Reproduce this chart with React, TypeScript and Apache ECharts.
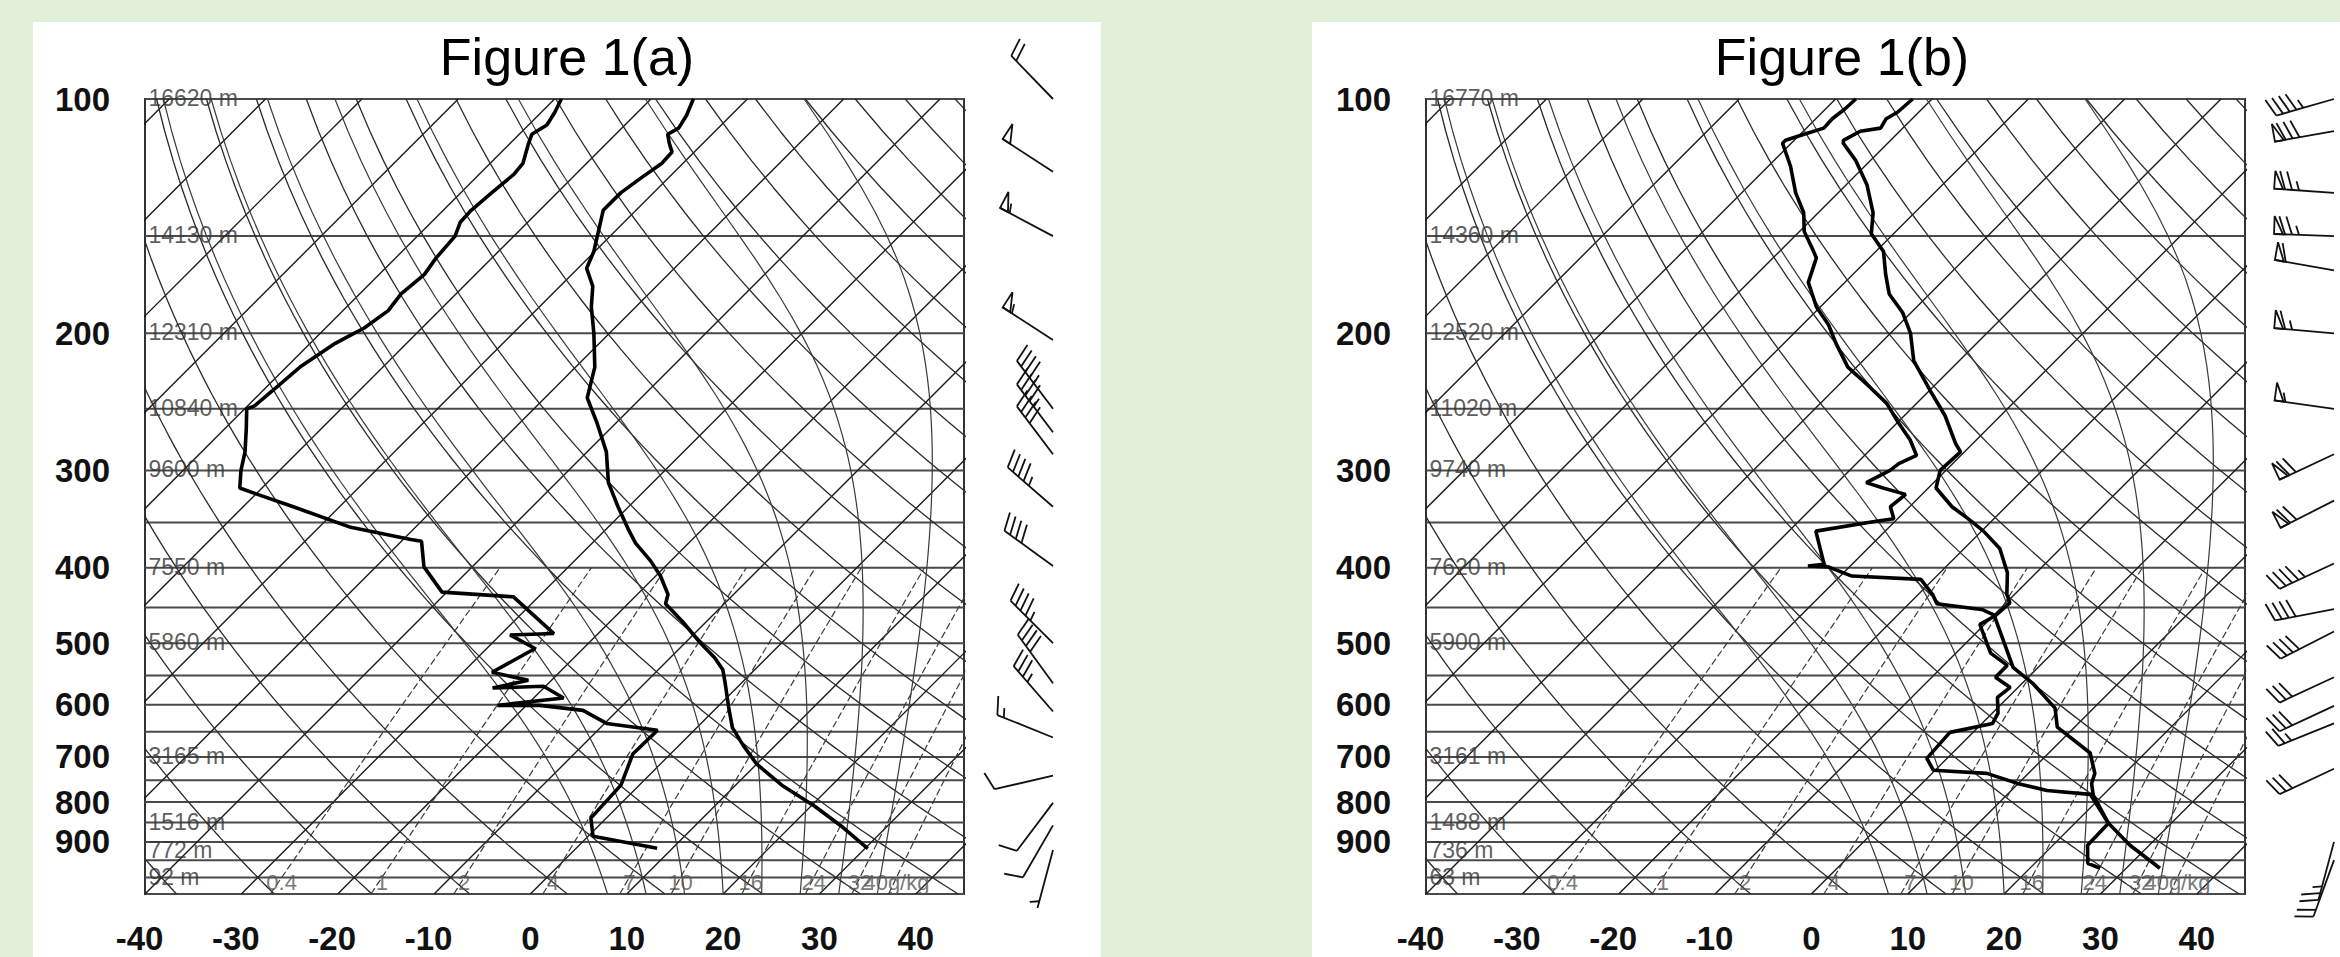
import React, { useEffect, useRef } from "react";
import * as echarts from "echarts";

// ---------- layout constants ----------
const PAGE_W = 2340;
const PAGE_H = 957;
const GRID_LEFT = [145, 1426];
const GRID_TOP = 99;
const GRID_W = 819;
const GRID_H = 795;
const T_MIN = -40;
const T_MAX = 45;
const P_TOP = 100;
const P_BOT = 1050;
const FONT = "'Liberation Sans', Arial, Helvetica, sans-serif";

// ---------- diagram reference values ----------
const PRESSURE_LABELS = [100, 200, 300, 400, 500, 600, 700, 800, 900];
const TEMP_LABELS = [-40, -30, -20, -10, 0, 10, 20, 30, 40];
const ISOBARS = [100, 150, 200, 250, 300, 350, 400, 450, 500, 550, 600, 650, 700, 750, 800, 850, 900, 950, 1000, 1050];
const ISOTHERMS = [-130, -120, -110, -100, -90, -80, -70, -60, -50, -40, -30, -20, -10, 0, 10, 20, 30, 40];
const DRY_ADIABATS = [-40, -30, -20, -10, 0, 10, 20, 30, 40, 50, 60, 70, 80, 90, 100, 110, 120, 130, 140, 150, 160, 170, 180];
const MOIST_ADIABATS = [8, 12, 16, 20, 24, 28, 32, 36];
const MIXING_RATIOS = [0.4, 1, 2, 4, 7, 10, 16, 24, 32, 40];
const MIXING_LABELS = ["0.4", "1", "2", "4", "7", "10", "16", "24", "32", "40g/kg"];

const HEIGHT_LEVELS = [100, 150, 200, 250, 300, 400, 500, 700, 850, 925, 1000];
const HEIGHTS_A = ["16620 m", "14130 m", "12310 m", "10840 m", "9600 m", "7550 m", "5860 m", "3165 m", "1516 m", "772 m", "92 m"];
const HEIGHTS_B = ["16770 m", "14360 m", "12520 m", "11020 m", "9740 m", "7620 m", "5900 m", "3161 m", "1488 m", "736 m", "63 m"];

// ---------- Figure 1(a) sounding ----------
const A_TEMP_P = [100, 105, 109, 111, 114, 117, 121, 126, 132, 139, 148, 157, 165, 174, 185, 200, 221, 242, 260, 284, 311, 334, 359, 372, 392, 410, 433, 445, 469, 499, 522, 541, 561, 603, 642, 677, 715, 761, 810, 862, 918];
const A_TEMP_T = [-65.6, -64.6, -64.1, -64.6, -63.5, -62.3, -62.2, -62.8, -63.4, -63.4, -61.7, -60.1, -59.1, -56.6, -54.6, -51.6, -48.0, -45.6, -42.1, -38.0, -34.6, -31.1, -27.4, -25.5, -22.1, -19.5, -16.8, -16.1, -12.5, -8.5, -5.4, -3.3, -1.8, 1.1, 3.7, 6.7, 10.0, 14.8, 20.4, 25.5, 30.3];
const A_DEW_P = [100, 104, 108, 111, 114, 121, 125, 132, 139, 144, 150, 160, 168, 178, 187, 197, 200, 206, 221, 237, 248, 250, 265, 284, 300, 316, 322, 334, 355, 368, 370, 399, 430, 436, 486, 488, 508, 545, 558, 571, 568, 588, 601, 601, 610, 634, 647, 694, 761, 839, 885, 917];
const A_DEW_T = [-79.3, -78.6, -78.1, -78.7, -78.1, -76.6, -76.4, -76.8, -77.1, -77.0, -76.1, -75.8, -75.3, -75.7, -75.3, -76.0, -76.5, -77.4, -78.6, -79.0, -79.3, -79.8, -77.8, -75.5, -74.0, -72.3, -69.8, -64.8, -56.7, -49.2, -47.9, -45.0, -40.5, -32.6, -24.6, -29.0, -25.0, -27.0, -22.4, -25.3, -20.2, -16.9, -23.0, -18.6, -13.6, -9.8, -3.8, -3.9, -1.9, -1.6, 0.5, 8.4];
const A_WIND_P = [100, 124, 150, 204, 250, 268, 286, 334, 398, 500, 563, 612, 661, 740, 802, 857, 922];
const A_WIND_DIR = [316, 303, 298, 303, 323, 323, 323, 311, 306, 315, 324, 319, 292, 257, 217, 210, 195];
const A_WIND_SPD = [20, 50, 55, 55, 45, 45, 40, 45, 40, 45, 40, 35, 15, 10, 10, 10, 5];

// ---------- Figure 1(b) sounding ----------
const B_TEMP_P = [100, 104, 106, 109, 110, 113, 114, 120, 129, 140, 149, 157, 168, 178, 188, 200, 217, 237, 255, 277, 284, 300, 316, 334, 346, 359, 378, 406, 433, 444, 462, 496, 537, 563, 606, 641, 692, 735, 757, 784, 852, 909, 973];
const B_TEMP_T = [-72.0, -72.2, -72.7, -72.3, -74.1, -74.9, -74.6, -71.5, -67.8, -64.3, -62.3, -59.2, -56.6, -54.2, -50.9, -47.9, -44.7, -39.9, -35.8, -31.8, -30.4, -30.6, -29.2, -25.6, -22.7, -19.8, -16.3, -13.0, -10.8, -9.6, -9.8, -6.4, -2.6, 1.1, 6.0, 8.2, 14.3, 16.9, 17.6, 19.0, 23.5, 28.0, 33.5];
const B_DEW_P = [100, 103, 106, 109, 111, 113, 114, 122, 132, 140, 148, 155, 160, 172, 185, 195, 206, 221, 233, 246, 260, 274, 287, 294, 300, 311, 316, 322, 334, 346, 349, 359, 396, 398, 399, 410, 414, 433, 445, 453, 461, 473, 515, 534, 553, 570, 587, 615, 634, 651, 703, 728, 735, 757, 773, 782, 852, 909, 959, 973];
const B_DEW_T = [-77.9, -78.0, -78.3, -78.2, -79.6, -80.9, -80.9, -77.7, -74.4, -71.5, -69.5, -67.1, -65.5, -63.8, -60.4, -57.3, -54.6, -50.9, -47.0, -43.1, -40.0, -36.9, -34.6, -35.6, -35.8, -37.0, -34.7, -31.7, -32.0, -30.4, -32.1, -37.2, -32.9, -34.4, -32.2, -28.8, -21.3, -18.5, -17.1, -11.7, -9.8, -10.5, -6.4, -3.4, -3.4, -0.8, -1.1, 0.6, 1.1, -2.4, -2.1, -0.2, 5.7, 9.9, 13.7, 18.6, 23.5, 23.6, 25.5, 27.3];
const B_WIND_P = [100, 110, 132, 150, 166, 200, 250, 286, 328, 395, 452, 483, 553, 602, 634, 725, 900, 950];
const B_WIND_DIR = [254, 260, 274, 272, 280, 275, 278, 245, 243, 245, 259, 243, 245, 245, 248, 245, 195, 200];
const B_WIND_SPD = [45, 80, 75, 75, 60, 65, 55, 70, 70, 45, 40, 40, 30, 30, 25, 30, 25, 20];

// ---------- thermodynamics helpers ----------
const K_SKEW = (GRID_H / Math.log(P_BOT / P_TOP)) / (GRID_W / (T_MAX - T_MIN));
const skewX = (t: number, p: number) => t + K_SKEW * Math.log(P_BOT / p);
const yv = (p: number) => Math.log10(p);

const curvePressures: number[] = [];
for (let p = P_BOT; p >= P_TOP; p -= 10) curvePressures.push(p);

function dryCurve(thetaC: number) {
  const th = thetaC + 273.15;
  return curvePressures.map((p) => {
    const t = th * Math.pow(p / 1000, 0.2857) - 273.15;
    return [skewX(t, p), yv(p)];
  });
}

function moistLapse(p: number, T: number) {
  const tc = T - 273.15;
  const es = 6.112 * Math.exp((17.67 * tc) / (tc + 243.5));
  const rs = (0.622 * es) / Math.max(p - es, 1);
  const Rd = 287.04, Cp = 1005.7, Lv = 2.501e6, eps = 0.622;
  const num = (Rd * T + Lv * rs) / p;
  const den = Cp + (Lv * Lv * rs * eps) / (Rd * T * T);
  return num / den;
}

function moistCurve(t0: number) {
  const pts: number[][] = [[skewX(t0, P_BOT), yv(P_BOT)]];
  let T = t0 + 273.15;
  let p = P_BOT;
  const dp = -2;
  while (p > P_TOP) {
    const k1 = moistLapse(p, T);
    const k2 = moistLapse(p + dp / 2, T + (k1 * dp) / 2);
    T += k2 * dp;
    p += dp;
    if (Math.round(p) % 10 === 0) pts.push([skewX(T - 273.15, p), yv(p)]);
  }
  return pts;
}

const tFromMix = (w: number, p: number) => {
  const e = (w * p) / (622 + w);
  const l = Math.log(e / 6.112);
  return (243.5 * l) / (17.67 - l);
};

function mixCurve(w: number) {
  const pts: number[][] = [];
  for (let p = P_BOT; p >= 400; p -= 25) pts.push([skewX(tFromMix(w, p), p), yv(p)]);
  return pts;
}

// ---------- series builders ----------
function lineSeries(gi: number, data: any[], style: any, z = 2) {
  return {
    type: "line",
    xAxisIndex: gi,
    yAxisIndex: gi,
    data,
    showSymbol: false,
    symbol: "none",
    silent: true,
    clip: true,
    animation: false,
    lineStyle: style,
    emphasis: { disabled: true },
    z,
  };
}

function barbSeries(gi: number, P: number[], DIR: number[], SPD: number[]) {
  return {
    type: "custom",
    xAxisIndex: gi,
    yAxisIndex: gi,
    clip: false,
    silent: true,
    z: 6,
    data: P.map((p, i) => [T_MAX, yv(p), DIR[i], SPD[i]]),
    renderItem: (params: any, api: any) => {
      const c = api.coord([api.value(0), api.value(1)]);
      const bx = c[0] + 89;
      const by = c[1];
      const d = (api.value(2) * Math.PI) / 180;
      const ux = Math.sin(d);
      const uy = -Math.cos(d);
      const px = -uy;
      const py = ux;
      const L = 60, BL = 18, SP = 7, FW = 9;
      const tx = bx + ux * L;
      const ty = by + uy * L;
      const st = { stroke: "#111", lineWidth: 1.8, fill: "none" };
      const children: any[] = [
        { type: "line", shape: { x1: bx, y1: by, x2: tx, y2: ty }, style: st },
      ];
      let spd = Math.round(api.value(3) / 5) * 5;
      let s = 0;
      while (spd >= 50) {
        const a = [tx - ux * s, ty - uy * s];
        const b = [tx - ux * (s + FW), ty - uy * (s + FW)];
        const apex = [a[0] + px * BL, a[1] + py * BL];
        children.push({ type: "polygon", shape: { points: [a, apex, b] }, style: st });
        s += FW + 2;
        spd -= 50;
      }
      while (spd >= 10) {
        const a = [tx - ux * s, ty - uy * s];
        children.push({
          type: "line",
          shape: { x1: a[0], y1: a[1], x2: a[0] + px * BL + ux * BL * 0.35, y2: a[1] + py * BL + uy * BL * 0.35 },
          style: st,
        });
        s += SP;
        spd -= 10;
      }
      if (spd >= 5) {
        if (s === 0) s = SP;
        const a = [tx - ux * s, ty - uy * s];
        const h = BL * 0.5;
        children.push({
          type: "line",
          shape: { x1: a[0], y1: a[1], x2: a[0] + px * h + ux * h * 0.35, y2: a[1] + py * h + uy * h * 0.35 },
          style: st,
        });
      }
      return { type: "group", children };
    },
  };
}

function panelSeries(gi: number, heights: string[], tp: number[], tt: number[], dp: number[], dt: number[], wp: number[], wd: number[], ws: number[]) {
  const s: any[] = [];
  ISOBARS.forEach((p) => s.push(lineSeries(gi, [[T_MIN, yv(p)], [T_MAX, yv(p)]], { color: "#4a4a4a", width: 2 }, 1)));
  ISOTHERMS.forEach((t) =>
    s.push(lineSeries(gi, [[skewX(t, P_BOT), yv(P_BOT)], [skewX(t, P_TOP), yv(P_TOP)]], { color: "#1a1a1a", width: 1.4 }, 2))
  );
  DRY_ADIABATS.forEach((th) => s.push(lineSeries(gi, dryCurve(th), { color: "#2a2a2a", width: 1.3 }, 2)));
  MOIST_ADIABATS.forEach((t0) => s.push(lineSeries(gi, moistCurve(t0), { color: "#3a3a3a", width: 1.2 }, 2)));
  MIXING_RATIOS.forEach((w) => s.push(lineSeries(gi, mixCurve(w), { color: "#3a3a3a", width: 1.2, type: [7, 3] }, 2)));
  s.push(lineSeries(gi, tp.map((p, i) => [skewX(tt[i], p), yv(p)]), { color: "#000", width: 3.6 }, 5));
  s.push(lineSeries(gi, dp.map((p, i) => [skewX(dt[i], p), yv(p)]), { color: "#000", width: 3.6 }, 5));
  s.push({
    type: "scatter",
    xAxisIndex: gi,
    yAxisIndex: gi,
    silent: true,
    symbolSize: 1,
    itemStyle: { color: "rgba(0,0,0,0)" },
    data: HEIGHT_LEVELS.map((p, i) => [T_MIN + 0.3, yv(p), heights[i]]),
    label: {
      show: true,
      position: "right",
      distance: 0,
      formatter: (q: any) => q.value[2],
      fontSize: 23,
      fontFamily: FONT,
      color: "#333",
      offset: [0, -1],
    },
    z: 4,
  });
  s.push({
    type: "scatter",
    xAxisIndex: gi,
    yAxisIndex: gi,
    silent: true,
    symbolSize: 1,
    itemStyle: { color: "rgba(0,0,0,0)" },
    data: MIXING_RATIOS.map((w, i) => [skewX(tFromMix(w, 1000), 1000), yv(1000), MIXING_LABELS[i]]),
    label: {
      show: true,
      position: "inside",
      formatter: (q: any) => q.value[2],
      fontSize: 22,
      fontFamily: FONT,
      color: "#555",
      offset: [0, 5],
    },
    z: 4,
  });
  s.push(barbSeries(gi, wp, wd, ws));
  return s;
}

function buildOption() {
  const grids = GRID_LEFT.map((left) => ({
    left,
    top: GRID_TOP,
    width: GRID_W,
    height: GRID_H,
    show: true,
    backgroundColor: "#ffffff",
    borderColor: "#333",
    borderWidth: 2,
    containLabel: false,
    outerBoundsMode: "none",
  }));
  const xAxes = GRID_LEFT.map((_, gi) => ({
    type: "value",
    gridIndex: gi,
    min: T_MIN,
    max: T_MAX,
    axisLine: { show: false },
    axisTick: { show: false },
    splitLine: { show: false },
    axisLabel: {
      customValues: TEMP_LABELS,
      margin: 28,
      formatter: (v: number) => (v < 0 ? `{n|${v}}` : `{p|${v}}`),
      rich: {
        n: { fontSize: 33, fontWeight: "bold", fontFamily: FONT, color: "#111", padding: [0, 11, 0, 0] },
        p: { fontSize: 33, fontWeight: "bold", fontFamily: FONT, color: "#111" },
      },
    },
  }));
  const yAxes = GRID_LEFT.map((_, gi) => ({
    type: "value",
    gridIndex: gi,
    min: yv(P_TOP),
    max: yv(P_BOT),
    inverse: true,
    axisLine: { show: false },
    axisTick: { show: false },
    splitLine: { show: false },
    axisLabel: {
      customValues: PRESSURE_LABELS.map(yv),
      formatter: (v: number) => String(Math.round(Math.pow(10, v))),
      fontSize: 33,
      fontWeight: "bold",
      fontFamily: FONT,
      color: "#111",
      margin: 35,
      padding: [0, 0, 12, 0],
    },
  }));
  const series = [
    ...panelSeries(0, HEIGHTS_A, A_TEMP_P, A_TEMP_T, A_DEW_P, A_DEW_T, A_WIND_P, A_WIND_DIR, A_WIND_SPD),
    ...panelSeries(1, HEIGHTS_B, B_TEMP_P, B_TEMP_T, B_DEW_P, B_DEW_T, B_WIND_P, B_WIND_DIR, B_WIND_SPD),
  ];
  return {
    animation: false,
    backgroundColor: "#e2efd9",
    grid: grids,
    xAxis: xAxes,
    yAxis: yAxes,
    series,
    graphic: [
      { type: "rect", z: -10, silent: true, shape: { x: 33, y: 22, width: 1068, height: 940 }, style: { fill: "#ffffff" } },
      { type: "rect", z: -10, silent: true, shape: { x: 1312, y: 22, width: 1030, height: 940 }, style: { fill: "#ffffff" } },
      {
        type: "text",
        z: 100,
        x: 567,
        y: 57,
        style: { text: "Figure 1(a)", fontSize: 52, fontFamily: FONT, fill: "#000", textAlign: "center", textVerticalAlign: "middle" },
      },
      {
        type: "text",
        z: 100,
        x: 1842,
        y: 57,
        style: { text: "Figure 1(b)", fontSize: 52, fontFamily: FONT, fill: "#000", textAlign: "center", textVerticalAlign: "middle" },
      },
    ],
  };
}

export default function App() {
  const ref = useRef<HTMLDivElement>(null);
  useEffect(() => {
    if (!ref.current) return;
    const chart = echarts.init(ref.current, null, { renderer: "svg" });
    chart.setOption(buildOption() as any);
    return () => chart.dispose();
  }, []);
  return <div ref={ref} style={{ position: "fixed", left: 0, top: 0, width: PAGE_W, height: PAGE_H }} />;
}
